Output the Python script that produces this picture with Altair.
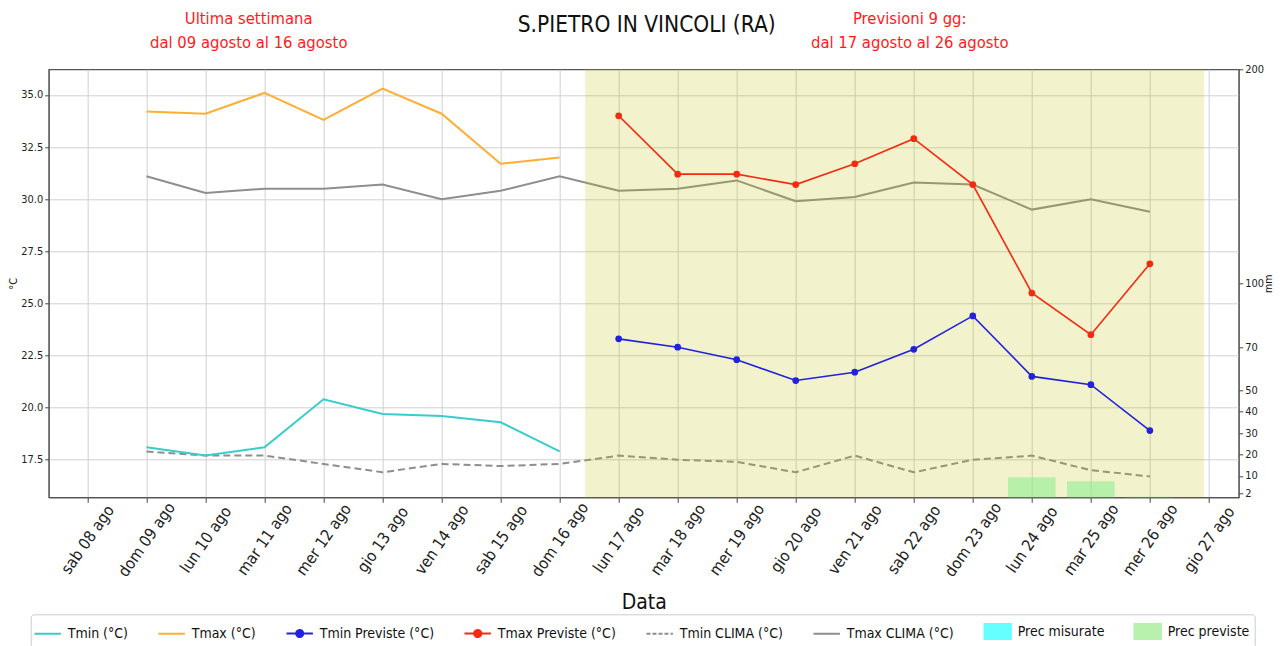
import altair as alt
import pandas as pd

FONT = "Liberation Sans Narrow, DejaVu Sans Condensed, DejaVu Sans"

# ---- data ----
giorni_oss = ["2020-08-09", "2020-08-10", "2020-08-11", "2020-08-12",
              "2020-08-13", "2020-08-14", "2020-08-15", "2020-08-16"]
giorni_prev = ["2020-08-17", "2020-08-18", "2020-08-19", "2020-08-20", "2020-08-21",
               "2020-08-22", "2020-08-23", "2020-08-24", "2020-08-25", "2020-08-26"]
giorni_clima = giorni_oss + giorni_prev

tmin = [18.1, 17.7, 18.1, 20.4, 19.7, 19.6, 19.3, 17.9]
tmax = [34.2, 34.1, 35.1, 33.8, 35.3, 34.1, 31.7, 32.0]
tmin_prev = [23.3, 22.9, 22.3, 21.3, 21.7, 22.8, 24.4, 21.5, 21.1, 18.9]
tmax_prev = [34.0, 31.2, 31.2, 30.7, 31.7, 32.9, 30.7, 25.5, 23.5, 26.9]
tmin_clima = [17.9, 17.7, 17.7, 17.3, 16.9, 17.3, 17.2, 17.3, 17.7,
              17.5, 17.4, 16.9, 17.7, 16.9, 17.5, 17.7, 17.0, 16.7]
tmax_clima = [31.1, 30.3, 30.5, 30.5, 30.7, 30.0, 30.4, 31.1, 30.4,
              30.5, 30.9, 29.9, 30.1, 30.8, 30.7, 29.5, 30.0, 29.4]
prec_mis = [0, 0, 0, 0, 0, 0, 0, 0]
prec_prev = [0, 0, 0, 0, 0, 0, 0, 9.4, 7.5, 0.3]

serie_nomi = ["Tmin (°C)", "Tmax (°C)", "Tmin Previste (°C)", "Tmax Previste (°C)",
              "Tmin CLIMA (°C)", "Tmax CLIMA (°C)", "Prec misurate", "Prec previste"]
serie_colori = ["#38cccc", "#ffae35", "#2222dd", "#f52a10",
                "#8e8e8e", "#8e8e8e", "#66ffff", "#b8f0ae"]

periodo_prev = ["2020-08-16T10:20:00", "2020-08-26T22:00:00"]
x_dominio = ["2020-08-07T10:17:00", "2020-08-27T10:05:00"]
tick_giorni = [f"2020-08-{d:02d}" for d in range(8, 28)]
tick_mm = [2, 10, 20, 30, 40, 50, 70, 100, 200]
tick_temp = [17.5, 20.0, 22.5, 25.0, 27.5, 30.0, 32.5, 35.0]

titolo = "S.PIETRO IN VINCOLI (RA)"
nota_oss = ["Ultima settimana", "dal 09 agosto al 16 agosto"]
nota_prev = ["Previsioni 9 gg:", "dal 17 agosto al 26 agosto"]


def loc(d):
    return d + "T00:00:00"


rows = []
for nome, giorni, vals in [
    (serie_nomi[0], giorni_oss, tmin), (serie_nomi[1], giorni_oss, tmax),
    (serie_nomi[2], giorni_prev, tmin_prev), (serie_nomi[3], giorni_prev, tmax_prev),
    (serie_nomi[4], giorni_clima, tmin_clima), (serie_nomi[5], giorni_clima, tmax_clima),
]:
    for g, v in zip(giorni, vals):
        rows.append({"data": loc(g), "serie": nome, "valore": v})
df = pd.DataFrame(rows)

prec_rows = []
for g, v in zip(giorni_oss, prec_mis):
    prec_rows.append({"data": loc(g), "serie": "Prec misurate", "mm": v})
for g, v in zip(giorni_prev, prec_prev):
    prec_rows.append({"data": loc(g), "serie": "Prec previste", "mm": v})
df_prec = pd.DataFrame(prec_rows)

df_rect = pd.DataFrame({"inizio": [periodo_prev[0]], "fine": [periodo_prev[1]]})

W, H = 1190, 428


def dt(s):
    y, m, d = s[:10].split("-")
    hh, mm = (s[11:13], s[14:16]) if len(s) > 10 else ("0", "0")
    return alt.DateTime(year=int(y), month=int(m), date=int(d), hours=int(hh), minutes=int(mm))


xscale = alt.Scale(domain=[dt(x_dominio[0]), dt(x_dominio[1])], nice=False)
xaxis = alt.Axis(
    values=[dt(t) for t in tick_giorni],
    labelExpr="['dom','lun','mar','mer','gio','ven','sab'][day(datum.value)] + ' ' + timeFormat(datum.value, '%d') + ' ago'",
    labelAngle=-55, labelAlign="center", labelBaseline="middle",
    labelFontSize=16, labelColor="#222222", labelPadding=37,
    tickColor="#444444", tickSize=5, domainColor="#555555",
    grid=True, gridColor="#d0d0d0", gridWidth=1,
    title="Data", titleFontSize=21, titleFontWeight="normal", titleColor="#111111",
    titlePadding=12, labelOverlap=False, labelBound=False, labelFlush=False,
)
X = alt.X("data:T", scale=xscale, axis=xaxis, title="Data")

yscale = alt.Scale(domain=[15.7, 36.23], nice=False, zero=False)
yaxis = alt.Axis(
    values=tick_temp, format=".1f",
    labelFontSize=11, labelColor="#222222", tickColor="#444444", tickSize=4,
    domainColor="#555555", grid=True, gridColor="#d0d0d0",
    title="°C", titleFontSize=11, titleFontWeight="normal", titleColor="#111111", titlePadding=2,
)
Y = alt.Y("valore:Q", scale=yscale, axis=yaxis, title="°C")

col_scale = alt.Scale(domain=serie_nomi, range=serie_colori)
C = alt.Color("serie:N", scale=col_scale, legend=None)

base = alt.Chart(df)

clima_min = base.transform_filter(alt.datum.serie == serie_nomi[4]).mark_line(
    strokeWidth=2, strokeDash=[7, 4]).encode(x=X, y=Y, color=C)
clima_max = base.transform_filter(alt.datum.serie == serie_nomi[5]).mark_line(
    strokeWidth=2).encode(x=X, y=Y, color=C)

rect = alt.Chart(df_rect).mark_rect(color="#bfbf00", opacity=0.2).encode(
    x=alt.X("inizio:T", scale=xscale, axis=xaxis, title="Data"),
    x2="fine:T", y=alt.value(0), y2=alt.value(H))

oss = base.transform_filter(
    alt.FieldOneOfPredicate(field="serie", oneOf=serie_nomi[:2])
).mark_line(strokeWidth=2).encode(x=X, y=Y, color=C, detail="serie:N")

prev = base.transform_filter(
    alt.FieldOneOfPredicate(field="serie", oneOf=serie_nomi[2:4])
).mark_line(strokeWidth=1.6, point=alt.OverlayMarkDef(filled=True, size=45, opacity=1)).encode(
    x=X, y=Y, color=C, detail="serie:N")

# legend layer (no rows drawn; legend built from explicit scale domains)
linea = "M-1.2,0H1.2"
linea_punto = "M-1.2,0H1.2M-0.32,0A0.32,0.32,0,1,1,0.32,0A0.32,0.32,0,1,1,-0.32,0Z"
patch = "M-1.2,-0.68H1.2V0.68H-1.2Z"
forme = [linea, linea, linea_punto, linea_punto, linea, linea, patch, patch]
tratti = [[1, 0], [1, 0], [1, 0], [1, 0], [4, 2], [1, 0], [1, 0], [1, 0]]

leg = alt.Legend(
    title=None, orient="none", legendX=-18, legendY=545, direction="horizontal",
    columns=8, symbolSize=484, symbolStrokeWidth=2, labelFontSize=14, labelFont=FONT,
    labelColor="#111111", strokeColor="#cccccc", fillColor="white", padding=5,
    cornerRadius=3, columnPadding=25, labelOffset=8, labelLimit=300,
)
legenda = base.transform_filter("false").mark_point(filled=True, opacity=1, strokeWidth=2).encode(
    x=X, y=Y,
    fill=alt.Fill("serie:N", scale=alt.Scale(domain=serie_nomi, range=serie_colori), legend=leg),
    stroke=alt.Stroke("serie:N", scale=alt.Scale(domain=serie_nomi, range=serie_colori), legend=leg),
    shape=alt.Shape("serie:N", scale=alt.Scale(domain=serie_nomi, range=forme), legend=leg),
    strokeDash=alt.StrokeDash("serie:N", scale=alt.Scale(domain=serie_nomi, range=tratti), legend=leg),
)

temp = alt.layer(clima_min, clima_max, rect, oss, prev, legenda)

barre = alt.Chart(df_prec).mark_bar(size=47.6, opacity=0.6).encode(
    x=alt.X("data:T", scale=xscale, axis=xaxis, title="Data"),
    y=alt.Y("mm:Q", scale=alt.Scale(domain=[0, 200], nice=False),
            axis=alt.Axis(orient="right", values=tick_mm,
                          labelFontSize=11, labelColor="#222222", tickColor="#444444",
                          tickSize=4, labelPadding=2, domainColor="#555555", grid=False,
                          title="mm", titleFontSize=10.5, titleFontWeight="normal",
                          titleAngle=270, titleBaseline="top",
                          titleColor="#111111", titlePadding=0)),
    color=alt.Color("serie:N", scale=alt.Scale(domain=["Prec misurate", "Prec previste"],
                                               range=["#00ffff", "#90ee90"]), legend=None),
)

df_testi = pd.DataFrame({"k": [0]})
t_titolo = alt.Chart(df_testi).mark_text(fontSize=22.5, color="#111111", font=FONT).encode(
    x=alt.value(W / 2 + 3), y=alt.value(-44), text=alt.value(titolo))
t_oss = alt.Chart(df_testi).mark_text(fontSize=16.5, color="#ff1a1a", font=FONT, lineHeight=24).encode(
    x=alt.value(200), y=alt.value(-50), text=alt.value(nota_oss))
t_prev = alt.Chart(df_testi).mark_text(fontSize=16.5, color="#ff1a1a", font=FONT, lineHeight=24).encode(
    x=alt.value(861), y=alt.value(-50), text=alt.value(nota_prev))

chart = alt.layer(temp, barre, t_titolo, t_oss, t_prev).resolve_scale(
    y="independent", color="independent"
).properties(
    width=W, height=H,
    padding={"left": 40.7, "top": 61.3, "right": 37.3, "bottom": 150},
    autosize=alt.AutoSizeParams(type="none"),
).configure(font=FONT).configure_view(stroke="#555555", strokeWidth=1.2)

chart.save("out.html", embed_options={"renderer": "svg", "actions": False})
